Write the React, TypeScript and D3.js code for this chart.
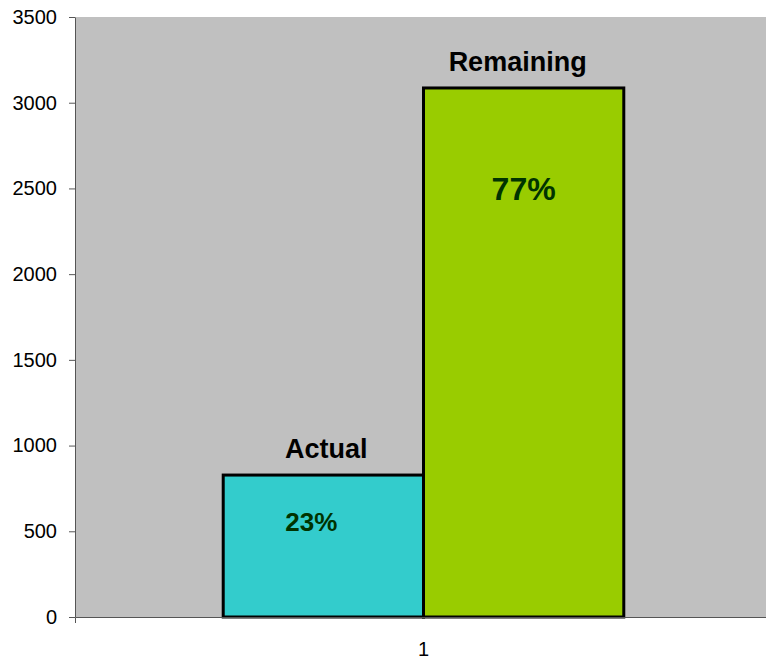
import React, { useRef, useEffect } from 'react';
import * as d3 from 'd3';

const categories = ['1'];
const seriesNames = ['Actual', 'Remaining'];
const seriesValues = [828, 3086];
const percentLabels = ['23%', '77%'];
const seriesColors = ['#33CCCC', '#99CC00'];
const yTicks = [0, 500, 1000, 1500, 2000, 2500, 3000, 3500];

const App: React.FC = () => {
  const svgRef = useRef<SVGSVGElement>(null);

  useEffect(() => {
    const svg = d3.select(svgRef.current);
    svg.selectAll('*').remove();

    const width = 766;
    const height = 657;
    const margin = { top: 17, right: 0, bottom: 40, left: 75 };
    const font = 'Liberation Sans, Arial, sans-serif';

    // plot area background
    svg.append('rect')
      .attr('x', margin.left)
      .attr('y', margin.top)
      .attr('width', width - margin.left - margin.right)
      .attr('height', height - margin.top - margin.bottom)
      .attr('fill', '#C0C0C0');

    // plot area in the source is a bit wider than the window, clipped on the right
    const x = d3.scaleBand()
      .domain(categories)
      .range([margin.left, width + 6]);

    const inner = d3.scaleBand()
      .domain(seriesNames)
      .range([0, x.bandwidth()])
      .paddingOuter(0.74)
      .paddingInner(0);

    const y = d3.scaleLinear()
      .domain([0, 3500])
      .range([height - margin.bottom, margin.top]);

    const data = seriesNames.map((name, i) => ({
      name,
      value: seriesValues[i],
      pct: percentLabels[i],
      color: seriesColors[i],
    }));

    const cx = (d: { name: string }) => x(categories[0])! + inner(d.name)! + inner.bandwidth() / 2;

    svg.append('g')
      .selectAll('rect')
      .data(data)
      .join('rect')
      .attr('x', d => x(categories[0])! + inner(d.name)!)
      .attr('y', d => y(d.value))
      .attr('width', inner.bandwidth())
      .attr('height', d => y(0) - y(d.value))
      .attr('fill', d => d.color)
      .attr('stroke', '#000')
      .attr('stroke-width', 3);

    // series name labels above bars
    svg.append('g')
      .selectAll('text')
      .data(data)
      .join('text')
      .attr('x', d => cx(d) + (d.name === 'Actual' ? 3 : -6))
      .attr('y', d => y(d.value) - 17)
      .attr('text-anchor', 'middle')
      .attr('font-family', font)
      .attr('font-weight', 'bold')
      .attr('font-size', 27)
      .attr('fill', '#000')
      .text(d => d.name);

    // percentage labels inside bars
    svg.append('g')
      .selectAll('text')
      .data(data)
      .join('text')
      .attr('x', d => cx(d) + (d.name === 'Actual' ? -12 : 0))
      .attr('y', d => y(d.value) + (d.name === 'Actual' ? 56 : 112))
      .attr('text-anchor', 'middle')
      .attr('font-family', font)
      .attr('font-weight', 'bold')
      .attr('font-size', d => (d.name === 'Actual' ? 26 : 32))
      .attr('fill', '#003300')
      .text(d => d.pct);

    // y axis
    const yAxis = svg.append('g')
      .attr('transform', `translate(${margin.left},0)`)
      .call(d3.axisLeft(y).tickValues(yTicks).tickFormat(d3.format('d')).tickSize(6).tickPadding(12).tickSizeOuter(0));
    yAxis.select('.domain').attr('stroke', '#555');
    yAxis.selectAll('line').attr('stroke', '#555');
    yAxis.selectAll('text')
      .attr('font-family', font)
      .attr('font-size', 20)
      .attr('fill', '#000');

    // x axis
    const xAxis = svg.append('g')
      .attr('transform', `translate(0,${height - margin.bottom})`)
      .call(d3.axisBottom(x).tickSize(0).tickPadding(25).tickSizeOuter(6));
    xAxis.select('.domain').attr('stroke', '#555');
    xAxis.selectAll('text')
      .attr('font-family', font)
      .attr('font-size', 20)
      .attr('fill', '#000');
  }, []);

  return (
    <svg
      ref={svgRef}
      width={766}
      height={657}
      style={{ position: 'absolute', left: 0, top: 0, background: '#fff' }}
    />
  );
};

export default App;
